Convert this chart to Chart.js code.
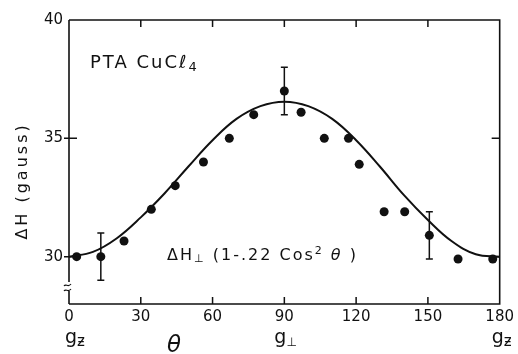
<!DOCTYPE html>
<html>
<head>
<meta charset="utf-8">
<script src="https://cdn.jsdelivr.net/npm/chart.js@4.4.1/dist/chart.umd.min.js"></script>
<style>
  body { margin: 0; background: #fff; }
  #wrap { width: 518px; height: 354px; }
</style>
</head>
<body>
<div id="wrap"><canvas id="linewidth" width="518" height="354"></canvas></div>
<script>
// measured linewidth vs. field angle
const angles = [3.2, 13.3, 23, 34.4, 44.4, 56.2, 67, 77.2, 90, 97, 106.7, 116.8, 121.3, 131.7, 140.3, 150.6, 162.6, 177.1];
const widths = [30.0, 30.0, 30.66, 32.0, 33.0, 34.0, 35.0, 36.0, 37.0, 36.1, 35.0, 35.0, 33.9, 31.9, 31.9, 30.9, 29.9, 29.9];

// error bars on a few of the points (index into the arrays above)
const errIndex = [1, 8, 15];
const errLow = [29.0, 36.0, 29.9];
const errHigh = [31.0, 38.0, 31.9];

// fitted curve
const fitAngles = [0, 10, 20, 30, 40, 50, 60, 70, 80, 90, 100, 110, 120, 130, 140, 150, 160, 170, 180];
const fitWidths = [30.0, 30.2, 30.78, 31.66, 32.68, 33.82, 34.92, 35.82, 36.36, 36.55, 36.36, 35.82, 34.92, 33.8, 32.6, 31.55, 30.65, 30.1, 30.0];

const xTicks = [0, 30, 60, 90, 120, 150, 180];
const yTicks = [30, 35, 40];
const innerTicksX = [30, 60, 90, 120, 150];
const innerTicksY = [30, 35];

const INK = '#111';
const FONT = 'DejaVu Sans';

function drawRuns(ctx, x, y, parts) {
  ctx.textAlign = 'left';
  ctx.textBaseline = 'alphabetic';
  parts.forEach(([text, font, dy]) => {
    ctx.font = font;
    ctx.fillText(text, x, y + (dy || 0));
    x += ctx.measureText(text).width;
  });
}

const framePlugin = {
  id: 'frame',
  beforeDatasetsDraw(chart) {
    const { ctx, chartArea: a, scales: { x, y } } = chart;
    ctx.save();
    ctx.strokeStyle = INK;
    ctx.lineWidth = 1.6;
    ctx.beginPath();
    // top, right, bottom
    ctx.moveTo(a.left, a.top); ctx.lineTo(a.right, a.top);
    ctx.lineTo(a.right, a.bottom); ctx.lineTo(a.left, a.bottom);
    // left axis, broken near the bottom
    ctx.moveTo(a.left, a.top); ctx.lineTo(a.left, a.bottom - 22);
    ctx.moveTo(a.left, a.bottom - 13); ctx.lineTo(a.left, a.bottom);
    ctx.stroke();

    // break marks
    ctx.lineWidth = 1.2;
    [a.bottom - 19, a.bottom - 14].forEach(yy => {
      ctx.beginPath();
      ctx.moveTo(a.left - 5, yy + 1);
      ctx.bezierCurveTo(a.left - 3, yy - 2, a.left - 1, yy + 3, a.left + 2, yy - 1);
      ctx.stroke();
    });

    // inward ticks
    ctx.lineWidth = 1.5;
    ctx.beginPath();
    innerTicksX.forEach(v => {
      const px = x.getPixelForValue(v);
      ctx.moveTo(px, a.bottom); ctx.lineTo(px, a.bottom - 7);
      ctx.moveTo(px, a.top); ctx.lineTo(px, a.top + 7);
    });
    innerTicksY.forEach(v => {
      const py = y.getPixelForValue(v);
      ctx.moveTo(a.left - 5, py); ctx.lineTo(a.left + 8, py);
      ctx.moveTo(a.right, py); ctx.lineTo(a.right - 8, py);
    });
    ctx.stroke();
    ctx.restore();
  },
  afterDatasetsDraw(chart) {
    const { ctx, chartArea: a, scales: { x, y } } = chart;
    ctx.save();
    ctx.strokeStyle = INK;
    ctx.fillStyle = INK;

    // error bars
    ctx.lineWidth = 1.5;
    ctx.beginPath();
    errIndex.forEach((i, k) => {
      const px = x.getPixelForValue(angles[i]);
      const lo = y.getPixelForValue(errLow[k]);
      const hi = y.getPixelForValue(errHigh[k]);
      ctx.moveTo(px, lo); ctx.lineTo(px, hi);
      ctx.moveTo(px - 3.5, lo); ctx.lineTo(px + 3.5, lo);
      ctx.moveTo(px - 3.5, hi); ctx.lineTo(px + 3.5, hi);
    });
    ctx.stroke();

    ctx.letterSpacing = '2px';
    // sample label
    drawRuns(ctx, a.left + 21, a.top + 48, [
      ['PTA CuCℓ', `18px ${FONT}`],
      ['4', `13px ${FONT}`, 3]
    ]);

    // fit formula
    drawRuns(ctx, x.getPixelForValue(41), y.getPixelForValue(29.85), [
      ['ΔH', `16px ${FONT}`],
      ['⊥', `11px ${FONT}`, 2],
      [' (1-.22 Cos', `16px ${FONT}`],
      ['2', `11px ${FONT}`, -6],
      [' ', `16px ${FONT}`],
      ['θ', `oblique 16px ${FONT}`],
      [' )', `16px ${FONT}`]
    ]);

    // y axis title
    ctx.save();
    ctx.letterSpacing = '3px';
    ctx.translate(a.left - 42, y.getPixelForValue(33.2));
    ctx.rotate(-Math.PI / 2);
    ctx.textAlign = 'center';
    ctx.textBaseline = 'alphabetic';
    ctx.font = `16px ${FONT}`;
    ctx.fillText('ΔH (gauss)', 0, 0);
    ctx.restore();

    // g-tensor directions and angle symbol under the axis
    ctx.letterSpacing = '0px';
    const gy = a.bottom + 39;
    drawRuns(ctx, x.getPixelForValue(0) - 4, gy, [['g', `19px ${FONT}`], ['ƶ', `15px ${FONT}`, 3]]);
    drawRuns(ctx, x.getPixelForValue(90) - 10, gy, [['g', `19px ${FONT}`], ['⊥', `12px ${FONT}`, 3]]);
    drawRuns(ctx, x.getPixelForValue(180) - 8, gy, [['g', `19px ${FONT}`], ['ƶ', `15px ${FONT}`, 3]]);
    drawRuns(ctx, x.getPixelForValue(41), a.bottom + 48, [['θ', `oblique 23px ${FONT}`]]);
    ctx.restore();
  }
};

new Chart(document.getElementById('linewidth'), {
  type: 'scatter',
  data: {
    datasets: [
      {
        data: fitAngles.map((v, i) => ({ x: v, y: fitWidths[i] })),
        showLine: true,
        borderColor: INK,
        borderWidth: 2,
        pointRadius: 0,
        tension: 0.4
      },
      {
        data: angles.map((v, i) => ({ x: v, y: widths[i] })),
        backgroundColor: INK,
        borderColor: INK,
        pointRadius: 4.5,
        borderWidth: 0
      }
    ]
  },
  options: {
    responsive: false,
    animation: false,
    layout: { padding: { top: 20, right: 17, left: 0, bottom: 0 } },
    plugins: { legend: { display: false }, tooltip: { enabled: false } },
    scales: {
      x: {
        type: 'linear',
        min: 0,
        max: 180,
        grid: { display: false, drawTicks: false },
        border: { display: false },
        afterBuildTicks: s => { s.ticks = xTicks.map(v => ({ value: v })); },
        afterFit: s => { s.height = 50; },
        ticks: { padding: 4, color: INK, font: { family: FONT, size: 15 }, maxRotation: 0, autoSkip: false }
      },
      y: {
        min: 28,
        max: 40,
        grid: { display: false, drawTicks: false },
        border: { display: false },
        afterBuildTicks: s => { s.ticks = yTicks.map(v => ({ value: v })); },
        afterFit: s => { s.width = 69; },
        ticks: { padding: 6, color: INK, font: { family: FONT, size: 15 } }
      }
    }
  },
  plugins: [framePlugin]
});
</script>
</body>
</html>
